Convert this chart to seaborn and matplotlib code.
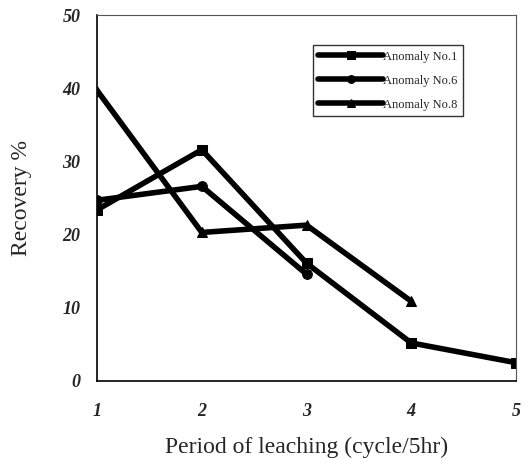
import pandas as pd
import seaborn as sns
from matplotlib import pyplot as plt

periods = [1, 2, 3, 4, 5]
anomaly_1 = [23.4, 31.6, 16.1, 5.2, 2.5]
anomaly_6 = [24.7, 26.6, 14.6]
anomaly_8 = [39.7, 20.3, 21.3, 10.9]
names = ["Anomaly No.1", "Anomaly No.6", "Anomaly No.8"]
markers = ["s", "o", "^"]

sns.set_style("white")
plt.rcParams['font.family'] = ['Liberation Serif', 'DejaVu Serif']

fig = plt.figure(figsize=(5.28, 4.59), dpi=100)
ax = fig.add_axes([0.184, 0.170, 0.793, 0.797])

for name, vals, m in zip(names, [anomaly_1, anomaly_6, anomaly_8], markers):
    df = pd.DataFrame({"Period": periods[:len(vals)], "Recovery": vals})
    sns.lineplot(data=df, x="Period", y="Recovery", ax=ax, color="black",
                 linewidth=4, marker=m, markersize=7, markeredgecolor="black",
                 label=name)

ax.set_xlim(1, 5)
ax.set_ylim(0, 50)
ax.set_xticks(periods)
ax.set_yticks(range(0, 51, 10))
for lab in ax.get_xticklabels() + ax.get_yticklabels():
    lab.set_fontweight("bold")
    lab.set_fontstyle("italic")
    lab.set_fontsize(13)
ax.tick_params(axis="both", direction="out", length=4, width=1, color="black", pad=8)
ax.tick_params(axis="x", pad=12)

ax.set_xlabel("Period of leaching (cycle/5hr)", fontsize=17, labelpad=12)
ax.set_ylabel("Recovery %", fontsize=17, labelpad=22)

for side in ["left", "bottom"]:
    ax.spines[side].set_color("black")
    ax.spines[side].set_linewidth(1.2)
for side in ["top", "right"]:
    ax.spines[side].set_color("#555555")
    ax.spines[side].set_linewidth(0.8)

leg = ax.legend(loc="upper left", bbox_to_anchor=(0.5, 0.935), fontsize=9,
                frameon=True, fancybox=False, edgecolor="black", handlelength=5.2,
                handletextpad=0.0, borderpad=0.45, labelspacing=0.95, markerscale=0.8)
leg.get_frame().set_linewidth(1.0)

fig.savefig("out.png", dpi=100)
